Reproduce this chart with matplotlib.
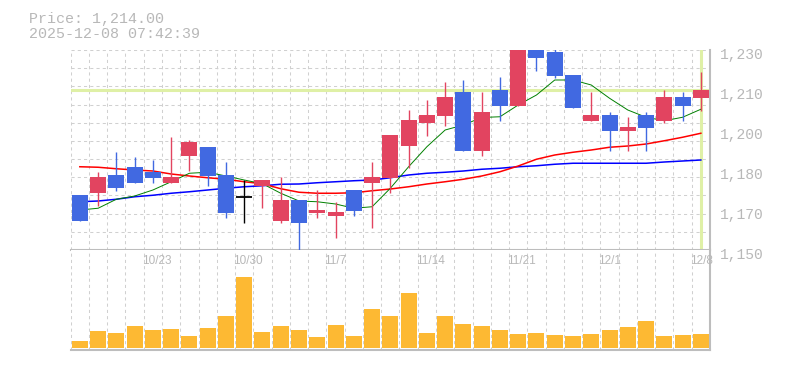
import matplotlib
matplotlib.use("Agg")
import matplotlib.pyplot as plt
import matplotlib.transforms as mtransforms
import numpy as np

# ---------------- data ----------------
dates = ["10/17", "10/20", "10/21", "10/22", "10/23", "10/24", "10/27", "10/28",
         "10/29", "10/30", "10/31", "11/4", "11/5", "11/6", "11/7", "11/10",
         "11/11", "11/12", "11/13", "11/14", "11/17", "11/18", "11/19", "11/20",
         "11/21", "11/25", "11/26", "11/27", "11/28", "12/1", "12/2", "12/3",
         "12/4", "12/5", "12/8"]
label_dates = ["10/23", "10/30", "11/7", "11/14", "11/21", "12/1", "12/8"]

opens = [1172.0, 1172.9, 1180.0, 1183.2, 1181.2, 1176.9, 1187.7, 1191.2, 1180.0,
         1171.1, 1175.6, 1161.7, 1170.0, 1164.9, 1163.7, 1174.0, 1176.9, 1178.9,
         1191.6, 1200.9, 1203.6, 1213.2, 1189.7, 1214.0, 1207.7, 1233.0, 1229.2,
         1220.1, 1201.7, 1204.0, 1197.7, 1204.0, 1201.7, 1211.2, 1210.9]
highs = [1172.0, 1181.2, 1189.2, 1187.2, 1186.0, 1195.3, 1194.0, 1191.2, 1185.2,
         1178.0, 1178.0, 1179.2, 1170.0, 1174.0, 1169.2, 1174.0, 1185.2, 1196.0,
         1206.0, 1210.0, 1217.2, 1218.0, 1213.3, 1219.2, 1232.0, 1234.0, 1232.0,
         1220.1, 1213.3, 1205.3, 1203.2, 1205.3, 1214.0, 1213.3, 1221.2]
lows = [1161.7, 1167.6, 1173.6, 1176.9, 1176.9, 1176.9, 1181.7, 1175.7, 1162.9,
        1160.9, 1166.9, 1160.9, 1149.5, 1162.8, 1154.9, 1163.7, 1158.9, 1172.9,
        1182.9, 1195.6, 1199.6, 1189.7, 1187.7, 1201.7, 1207.7, 1221.7, 1218.9,
        1206.9, 1201.7, 1189.7, 1189.7, 1189.7, 1200.9, 1201.7, 1205.7]
closes = [1161.7, 1179.2, 1174.9, 1176.9, 1178.9, 1179.2, 1193.2, 1179.7, 1164.9,
          1171.1, 1178.0, 1170.0, 1160.9, 1166.0, 1165.2, 1165.7, 1179.2, 1196.0,
          1202.0, 1204.0, 1211.2, 1189.7, 1205.2, 1207.7, 1232.0, 1226.9, 1219.7,
          1206.9, 1204.0, 1197.7, 1199.2, 1198.9, 1211.2, 1207.7, 1214.0]

ma_short = [1166.0, 1166.7, 1170.3, 1171.6, 1174.0, 1177.3, 1180.7, 1181.1, 1179.6,
            1178.0, 1176.5, 1172.7, 1169.6, 1169.3, 1168.4, 1166.7, 1167.3, 1174.7,
            1183.3, 1191.3, 1198.0, 1200.0, 1203.0, 1203.3, 1208.0, 1212.0, 1218.0,
            1218.0, 1216.0, 1210.7, 1206.0, 1203.1, 1201.7, 1203.1, 1206.3]
ma_mid = [1183.3, 1183.1, 1182.5, 1182.0, 1181.6, 1180.4, 1179.6, 1178.9, 1178.3,
          1177.3, 1176.5, 1174.5, 1173.1, 1172.7, 1172.7, 1172.9, 1173.7, 1174.4,
          1175.3, 1176.4, 1177.3, 1178.3, 1179.6, 1181.3, 1183.6, 1186.3, 1188.0,
          1189.1, 1190.0, 1191.1, 1191.6, 1192.4, 1193.7, 1195.1, 1196.7]
ma_long = [1169.3, 1169.6, 1170.3, 1171.3, 1171.9, 1172.7, 1173.3, 1174.0, 1174.7,
           1175.3, 1175.7, 1176.3, 1176.4, 1176.9, 1177.3, 1177.7, 1178.0, 1178.9,
           1180.0, 1180.7, 1181.1, 1181.6, 1182.3, 1182.7, 1183.3, 1183.7, 1184.3,
           1184.7, 1184.7, 1184.7, 1184.7, 1184.7, 1185.2, 1185.6, 1186.0]

volumes = [7300, 17300, 15300, 22300, 18300, 19300, 12300, 20300, 32300, 71300,
           16300, 22300, 18300, 11300, 23300, 12300, 39300, 32300, 55300, 15300,
           32300, 24300, 22300, 18300, 14300, 15300, 13300, 12300, 14300, 18300,
           21300, 27300, 12300, 13300, 14300]

price_label = "Price: 1,214.00"
time_label = "2025-12-08 07:42:39"

# ---------------- style ----------------
UP = "#e24460"
DOWN = "#4169e1"
VOL = "#fdb933"
GRID = "#d0d0d0"
SPINE = "#bdbdbd"
TXT = "#b8b8b8"
CUR = "#dff0a6"
MONO = "Liberation Mono"

W, H = 785, 370
fig = plt.figure(figsize=(W / 100, H / 100), dpi=100)

L, R = 70.7, 710.0
ax = fig.add_axes([L / W, (H - 250) / H, (R - L) / W, 200 / H])
axv = fig.add_axes([L / W, (H - 350) / H, (R - L) / W, 100 / H])

n = len(closes)
x = np.arange(n)
ymin, ymax = 1150, 1230

for a in (ax, axv):
    a.set_xlim(-0.5, n - 0.5)
    a.set_facecolor("white")
    for s in ("left", "top"):
        a.spines[s].set_visible(False)
    for s in ("right", "bottom"):
        a.spines[s].set_color(SPINE)
        a.spines[s].set_linewidth(1.5)
    for k in range(n):
        a.axvline(k - 0.5, color=GRID, lw=0.75, ls=(0, (3, 3)), zorder=0)

ax.set_ylim(ymin, ymax)
for v in np.linspace(ymin, ymax, 12)[1:]:
    ax.axhline(v, color=GRID, lw=0.75, ls=(0, (3, 3)), zorder=0)

# current price crosshair
ax.axhline(closes[-1], color=CUR, lw=2.2, zorder=1)
ax.axvline(x[-1], color=CUR, lw=2.2, zorder=1)

# moving averages
ax.plot(x, ma_long, color="#0000ff", lw=1.1, zorder=2)
ax.plot(x, ma_mid, color="#ff0000", lw=1.1, zorder=2)
ax.plot(x, ma_short, color="#008000", lw=0.7, zorder=2)

# candles
bw = 0.877
for i in range(n):
    o, h, l, c = opens[i], highs[i], lows[i], closes[i]
    if c > o:
        col = UP
    elif c < o:
        col = DOWN
    else:
        col = "black"
    ax.vlines(i, l, h, color=col, lw=1.0, zorder=3)
    if c != o:
        ax.bar(i, abs(c - o), bottom=min(o, c), width=bw, color=col,
               linewidth=0, zorder=4)
    else:
        ax.hlines(o, i - bw / 2, i + bw / 2, color=col, lw=1.3, zorder=4)

ax.set_xticks([])
ax.yaxis.tick_right()
yt = np.linspace(ymin, ymax, 6)
ax.set_yticks(yt)
ax.set_yticklabels([f"{int(round(v, -1)):,}" for v in yt])
ax.tick_params(axis="y", length=0, pad=7.2, labelsize=10.5, labelcolor=TXT)
off = mtransforms.ScaledTranslation(0, -3 / 100, fig.dpi_scale_trans)
for lab in ax.get_yticklabels():
    lab.set_fontfamily(MONO)
    lab.set_transform(lab.get_transform() + off)

# volume
axv.bar(x, volumes, width=bw, color=VOL, linewidth=0, zorder=2)
axv.set_ylim(-2000, 98000)
axv.set_xticks([])
axv.set_yticks([])

tr = mtransforms.blended_transform_factory(axv.transData, axv.transAxes)
loff = mtransforms.ScaledTranslation(-2 / 100, 0, fig.dpi_scale_trans)
for d in label_dates:
    i = dates.index(d)
    axv.text(i - 0.5, 0.89, d, transform=tr + loff, ha="left", va="center",
             fontsize=8.5, color=TXT, family="Liberation Sans", zorder=5)

fig.text(29.3 / W, (H - 22.7) / H, price_label, ha="left", va="baseline",
         fontsize=10.8, color=TXT, family=MONO)
fig.text(29.3 / W, (H - 37.7) / H, time_label, ha="left", va="baseline",
         fontsize=10.8, color=TXT, family=MONO)

fig.savefig("out.png", dpi=100, facecolor="white")
